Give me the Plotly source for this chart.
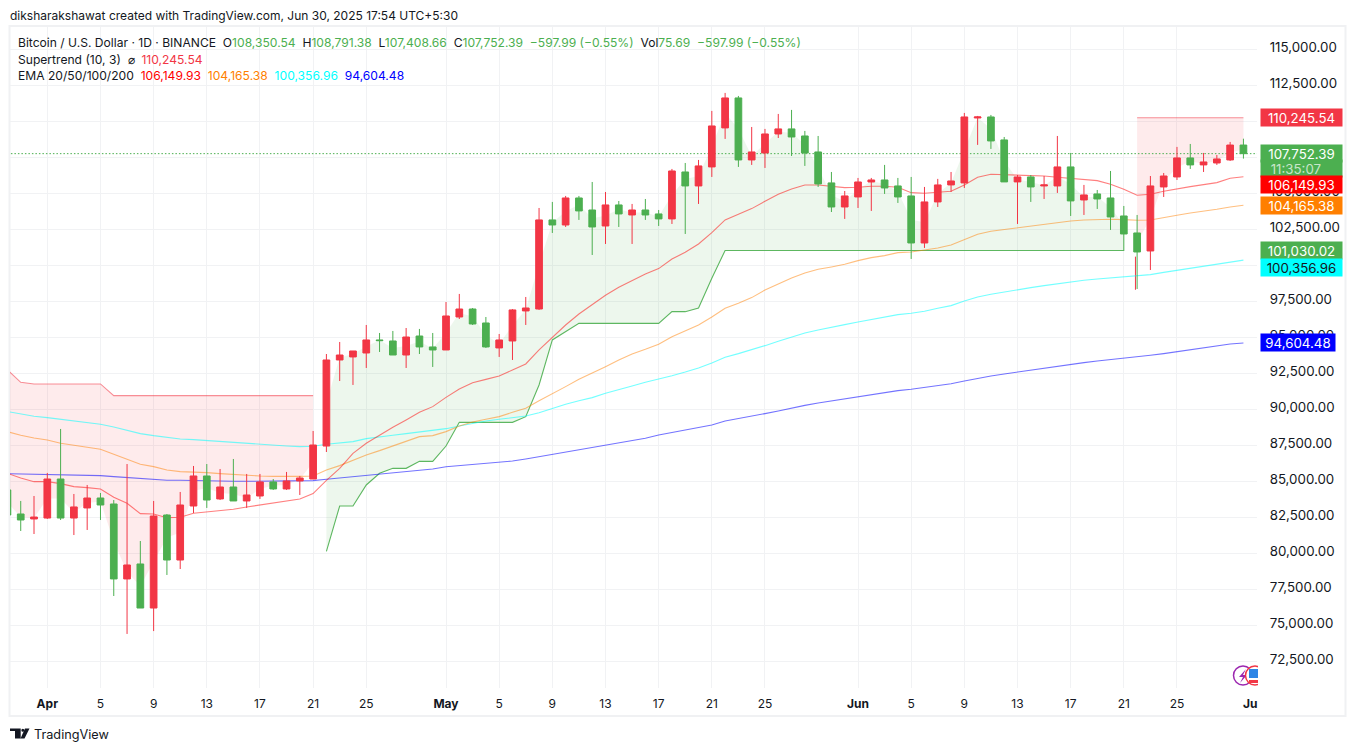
import pandas as pd
import plotly.graph_objects as go

# --- Data, one value per day from Mar 29 to Jun 30 2025 ---
dates = pd.date_range("2025-03-29", "2025-06-30", freq="D")

opens = [
    84400, 82730, 82385,
    82450, 85160, 82450, 83150, 83840, 83425, 78220, 79260, 76200, 82660, 79535, 83285, 85370, 83775, 84605,
    83635, 83980, 84955, 84470, 85025, 85160, 87450, 93425, 93635, 93910, 94815, 94745, 93770, 95090, 94330,
    94120, 96410, 96965, 95995, 94260, 94745, 96830, 96965, 103150, 102800, 104675, 103840, 102730, 104190, 103495,
    103840, 103565, 103220, 106480, 105510, 106830, 109540, 111620, 107315, 107800, 109120, 109470, 108980, 107870, 105720, 104050,
    104745, 105785, 105925, 105510, 104815, 101550, 104400, 105580, 105720, 110230, 110300, 108705, 105790, 106135, 105510,
    105510, 106830, 104535, 104955, 104675, 103425, 102245, 100995, 105440, 106135, 107455, 106970, 107105, 107315, 108350.54,
]
closes = [
    82660, 82315, 82520,
    85160, 82450, 83220, 83840, 83355, 78220, 79190, 76200, 82590, 79535, 83355, 85370, 83700, 84605, 83635,
    84050, 84955, 84470, 85025, 85230, 87520, 93425, 93770, 94050, 94815, 94770, 93770, 95020, 94330, 94120,
    96480, 96965, 95925, 94330, 94815, 96900, 97035, 103150, 102800, 104675, 103775, 102660, 104190, 103565, 103840,
    103495, 103220, 106550, 105510, 106900, 109675, 111620, 107315, 107870, 109120, 109470, 108910, 107800, 105650, 104050, 104815,
    105785, 105925, 105370, 104745, 101550, 104400, 105580, 105855, 110300, 110300, 108635, 105790, 106135, 105440, 105580,
    106830, 104470, 104885, 104605, 103355, 102175, 100925, 105510, 106200, 107455, 106970, 107175, 107385, 108350, 107752.39,
]
highs = [
    84400, 83635, 83980,
    85580, 88635, 84120, 84745, 84190, 83700, 86200, 80855, 83635, 82730, 84260, 86065, 86200, 85855, 86550,
    85510, 85510, 85160, 85650, 85370, 88495, 93840, 94675, 94050, 95855, 95300, 95440, 95645, 95580, 95300,
    97450, 98010, 97035, 96410, 95230, 96965, 97800, 103980, 104400, 104815, 104815, 105785, 105090, 104465, 104260,
    104605, 103840, 106690, 107105, 107315, 110720, 111970, 111760, 109605, 109470, 110510, 110790, 109330, 108980, 106480, 105160,
    106065, 106065, 106970, 106065, 106135, 105440, 106000, 106480, 110580, 110370, 110440, 108910, 106270, 106270, 106200,
    108980, 107800, 105580, 105230, 106550, 104120, 103495, 106200, 106410, 108220, 108425, 107800, 107660, 108565, 108791.38,
]
lows = [
    82660, 81550, 81340,
    82385, 82315, 81270, 81620, 82315, 77035, 74400, 76200, 74600, 78495, 78910, 82800, 83150, 83700, 83635,
    83150, 83775, 84400, 84400, 84050, 85160, 87035, 91965, 91690, 92870, 93980, 93770, 92870, 93840, 92940,
    94120, 96270, 95855, 94260, 93635, 93425, 95855, 96900, 102245, 102660, 103150, 100715, 101480, 102660, 101480,
    103150, 102730, 102870, 102175, 104260, 106135, 108775, 106830, 106970, 106760, 108840, 107590, 106900, 105440, 103700, 103220,
    103980, 103775, 104955, 104330, 100440, 101205, 104050, 105090, 105370, 108360, 108080, 105790, 102870, 104400, 104605,
    105025, 103425, 103495, 103910, 102455, 100995, 98355, 99675, 104745, 105925, 106690, 106480, 106970, 107245, 107408.66,
]

ema20 = [
    85555, 85230, 84975,
    84975, 84840, 84630, 84560, 84470, 83890, 83470, 82755, 82730, 82475, 82500, 82780, 82870, 82985, 83055,
    83215, 83355, 83470, 83610, 83775, 84145, 85070, 85900, 86945, 87640, 88215, 88750, 89260, 89790, 90185,
    90830, 91410, 91850, 92080, 92315, 92730, 93150, 94120, 94975, 95855, 96620, 97245, 97915, 98470, 98960,
    99400, 99770, 100440, 100900, 101480, 102270, 103150, 103540, 103935, 104445, 104930, 105300, 105580, 105580, 105465, 105395,
    105415, 105485, 105485, 105415, 105045, 105000, 105070, 105140, 105580, 106110, 106320, 106295, 106250, 106225, 106200,
    106110, 106040, 105970, 105880, 105625, 105280, 104860, 104930, 105140, 105325, 105465, 105600, 105740, 106040, 106149.93,
]
ema50 = [
    88450, 88195, 88010,
    87870, 87640, 87475, 87360, 87220, 86875, 86550, 86180, 86020, 85785, 85670, 85650, 85600, 85530, 85460,
    85415, 85370, 85345, 85325, 85345, 85370, 85785, 86090, 86480, 86830, 87130, 87450, 87775, 88100, 88170,
    88450, 88840, 89120, 89305, 89490, 89790, 90070, 90600, 91065, 91575, 92080, 92500, 92960, 93425, 93840,
    94165, 94515, 95045, 95440, 95855, 96410, 97015, 97360, 97755, 98285, 98700, 99120, 99470, 99720, 99885, 100070,
    100325, 100530, 100670, 100880, 100925, 101040, 101200, 101410, 101805, 102150, 102360, 102475, 102590, 102710, 102825,
    102985, 103080, 103150, 103195, 103195, 103170, 103125, 103150, 103285, 103470, 103635, 103750, 103890, 104050, 104165.38,
]
ema100 = [
    89840, 89655, 89515,
    89420, 89305, 89190, 89075, 88960, 88775, 88565, 88310, 88170, 88035, 87940, 87895, 87825, 87755, 87685,
    87615, 87545, 87500, 87455, 87410, 87430, 87570, 87640, 87755, 87965, 88100, 88195, 88310, 88425, 88515,
    88655, 88840, 89025, 89190, 89305, 89395, 89535, 89765, 90070, 90345, 90600, 90810, 91110, 91340, 91620,
    91875, 92080, 92335, 92590, 92870, 93215, 93610, 93865, 94120, 94420, 94720, 95020, 95300, 95510, 95670, 95880,
    96065, 96225, 96410, 96575, 96665, 96805, 97015, 97200, 97520, 97800, 97985, 98150, 98290, 98450, 98590,
    98730, 98845, 98960, 99050, 99120, 99190, 99235, 99350, 99510, 99650, 99790, 99955, 100095, 100255, 100356.96,
]
ema200 = [
    85530, 85510, 85485,
    85460, 85460, 85440, 85415, 85395, 85325, 85255, 85160, 85115, 85070, 85070, 85045, 85025, 85000, 85000,
    85000, 85000, 85025, 85025, 85045, 85045, 85140, 85230, 85320, 85415, 85510, 85625, 85715, 85785, 85855,
    86015, 86085, 86155, 86225, 86320, 86410, 86550, 86710, 86875, 87035, 87220, 87360, 87520, 87660, 87820,
    87985, 88215, 88380, 88565, 88700, 88910, 89190, 89350, 89510, 89700, 89885, 90090, 90275, 90440, 90580, 90740,
    90900, 91040, 91180, 91295, 91390, 91505, 91645, 91780, 91970, 92150, 92315, 92455, 92590, 92730, 92870,
    92985, 93125, 93240, 93355, 93450, 93540, 93610, 93750, 93865, 94005, 94145, 94285, 94425, 94535, 94604.48,
]

# Supertrend segments: Mar 29-Apr 21 down, Apr 22-Jun 21 up, Jun 22-Jun 30 down
st_down_first = [92750, 91875, 91760, 91760, 91760, 91760, 91760, 91760] + [90950] * 16
st_up = (
    [80140, 83285, 83285, 84745, 85555, 85900, 85900, 86385, 86385]
    + [87450, 89095, 89095, 89095, 89095, 89095, 89490, 91690, 94815, 95390]
    + [95970] * 7
    + [96780, 96780, 97035, 99100]
    + [101030.02] * 31
)
st_down_last = [110245.54] * 9
st_flip_wick = [100600, 98300]

price_ticks = [72500 + 2500 * i for i in range(18)]
date_ticks = ["2025-04-01", "2025-04-05", "2025-04-09", "2025-04-13", "2025-04-17", "2025-04-21", "2025-04-25",
              "2025-05-01", "2025-05-05", "2025-05-09", "2025-05-13", "2025-05-17", "2025-05-21", "2025-05-25",
              "2025-06-01", "2025-06-05", "2025-06-09", "2025-06-13", "2025-06-17", "2025-06-21", "2025-06-25",
              "2025-07-01"]
date_labels = ["<b>Apr</b>", "5", "9", "13", "17", "21", "25",
               "<b>May</b>", "5", "9", "13", "17", "21", "25",
               "<b>Jun</b>", "5", "9", "13", "17", "21", "25", ""]

for series in (opens, closes, highs, lows, ema20, ema50, ema100, ema200):
    assert len(series) == len(dates)
assert len(st_down_first) + len(st_up) + len(st_down_last) == len(dates)

# --- Colours and sizes ---
RED = "#F23645"
GREEN = "#4CAF50"
INK = "#131722"
GRID = "#F1F2F4"
FONT = "Inter"
W, H = 1355, 751
LEFT, RIGHT, TOP, BOTTOM = 10, 1257, 27, 688
X_RANGE = ["2025-03-29 04:38", "2025-07-01 00:30"]
Y_RANGE = [70647, 116547]


def px(x):
    return (x - LEFT) / (RIGHT - LEFT)


def py(y):
    return (BOTTOM - y) / (BOTTOM - TOP)


body_mid = [(o + c) / 2 for o, c in zip(opens, closes)]
n1 = len(st_down_first)
n2 = n1 + len(st_up)

fig = go.Figure()


def fill_band(xs, line_vals, mid_vals, line_color, fill_color):
    fig.add_trace(go.Scatter(x=xs, y=line_vals, mode="lines", line=dict(color=line_color, width=1.1), hoverinfo="skip"))
    fig.add_trace(go.Scatter(x=xs, y=mid_vals, mode="lines", line=dict(width=0), fill="tonexty",
                             fillcolor=fill_color, hoverinfo="skip"))


# --- Supertrend bands ---
fill_band(dates[:n1], st_down_first, body_mid[:n1], "rgba(242,54,69,0.55)", "rgba(242,54,69,0.10)")
fill_band(dates[n1:n2], st_up, body_mid[n1:n2], "rgba(76,175,80,0.9)", "rgba(76,175,80,0.10)")
fill_band(dates[n2:], st_down_last, body_mid[n2:], "rgba(242,54,69,0.55)", "rgba(242,54,69,0.10)")
fig.add_trace(go.Scatter(x=[dates[n2] - pd.Timedelta(hours=3)] * 2, y=st_flip_wick, mode="lines",
                         line=dict(color=RED, width=1), hoverinfo="skip"))

# --- Last price line ---
fig.add_trace(go.Scatter(x=[dates[0], X_RANGE[1]], y=[closes[-1], closes[-1]], mode="lines",
                         line=dict(color=GREEN, width=1, dash="1.5px 2px"), hoverinfo="skip"))

# --- EMAs ---
for vals, color in [(ema200, "rgba(0,0,255,0.55)"), (ema100, "rgba(0,255,255,0.55)"),
                    (ema50, "rgba(255,127,0,0.5)"), (ema20, "rgba(255,0,0,0.5)")]:
    fig.add_trace(go.Scatter(x=dates, y=vals, mode="lines", line=dict(color=color, width=1.1), hoverinfo="skip"))

# --- Candles, on an overlaying axis pair so they sit above the lines (up = red, down = green) ---
fig.add_trace(go.Candlestick(
    x=dates, open=opens, high=highs, low=lows, close=closes,
    xaxis="x2", yaxis="y2", whiskerwidth=0,
    increasing=dict(line=dict(color=RED, width=1), fillcolor=RED),
    decreasing=dict(line=dict(color=GREEN, width=1), fillcolor=GREEN),
))

# --- Text ---
G = lambda t: f"<span style='color:{GREEN}'>{t}</span>"
NB = "\u00a0"
header_rows = [
    (42, f"Bitcoin / U.S. Dollar · 1D · BINANCE{NB}{NB}O{G('108,350.54')}{NB}{NB}H{G('108,791.38')}{NB}{NB}"
         f"L{G('107,408.66')}{NB}{NB}C{G('107,752.39')}{NB}{NB}{G('−597.99 (−0.55%)')}{NB}{NB}"
         f"Vol{G('75.69')}{NB}{NB}{G('−597.99 (−0.55%)')}"),
    (59, f"Supertrend (10, 3){NB}{NB}⌀{NB}{NB}<span style='color:{RED}'>110,245.54</span>"),
    (76, f"EMA 20/50/100/200{NB}{NB}<span style='color:#FF0000'>106,149.93</span>{NB}{NB}"
         f"<span style='color:#FF7F00'>104,165.38</span>{NB}{NB}<span style='color:#00FFFF'>100,356.96</span>{NB}{NB}"
         f"<span style='color:#0000FF'>94,604.48</span>"),
]
annotations = [dict(xref="paper", yref="paper", x=px(16), y=py(y), text=t, showarrow=False, xanchor="left",
                    yanchor="middle", font=dict(family=FONT, size=12.1, color=INK)) for y, t in header_rows]
annotations.append(dict(xref="paper", yref="paper", x=px(8), y=py(15), showarrow=False, xanchor="left",
                        yanchor="middle",
                        text="diksharakshawat created with TradingView.com, Jun 30, 2025 17:54 UTC+5:30",
                        font=dict(family=FONT, size=12, color=INK)))
annotations.append(dict(xref="paper", yref="paper", x=px(31.5), y=py(734), showarrow=False, xanchor="left",
                        yanchor="middle", text="TradingView", font=dict(family=FONT, size=12.7, color=INK)))
annotations.append(dict(xref="paper", yref="paper", x=px(1259), y=py(703), showarrow=False, xanchor="right",
                        yanchor="middle", text="<b>Ju</b>", font=dict(family=FONT, size=12, color=INK)))

# Price tags: value, background, text colour, label, pixel shift from the true price
tags = [
    (110245.54, RED, "white", "110,245.54", 0, 81),
    (107752.39, GREEN, "white", "107,752.39", 0, 81),
    (107752.39, GREEN, "rgba(255,255,255,0.7)", f"11:35:07{NB}{NB}{NB}", -15, 81),
    (106149.93, "#FF0000", "white", "106,149.93", -8, 81),
    (104165.38, "#FF7F00", "white", "104,165.38", 0, 81),
    (101030.02, GREEN, "white", "101,030.02", 0, 81),
    (100356.96, "#00FFFF", INK, "100,356.96", -7, 81),
    (94604.48, "#0000FF", "white", "94,604.48", 0, 74),
]
for value, bg, fg, label, shift, width in tags:
    annotations.append(dict(xref="paper", yref="y", x=px(1260), y=value, yshift=shift, text=label, showarrow=False,
                            xanchor="left", yanchor="middle", width=width, height=17, align="center", bgcolor=bg,
                            borderpad=0, font=dict(family=FONT, size=13.3, color=fg)))

# --- Frame, logo and the two small icons ---
def logo_path(points):
    return "M " + " L ".join(f"{px(x):.5f} {py(y):.5f}" for x, y in points) + " Z"


shapes = [
    dict(type="rect", xref="paper", yref="paper", x0=px(9.5), x1=px(1345.5), y0=py(716), y1=py(26),
         line=dict(color="#F0F1F3", width=2), layer="below"),
    dict(type="path", xref="paper", yref="paper", fillcolor=INK, line=dict(width=0),
         path=logo_path([(10, 728.5), (20.7, 728.5), (20.7, 738.5), (15, 738.5), (15, 731), (10, 731)])),
    dict(type="path", xref="paper", yref="paper", fillcolor=INK, line=dict(width=0),
         path=logo_path([(25, 728.5), (29.5, 728.5), (24.5, 738.5), (20.5, 738.5)])),
    dict(type="circle", xref="paper", yref="paper", fillcolor=INK, line=dict(width=0),
         x0=px(21.3), x1=px(24.3), y0=py(731.8), y1=py(728.8)),
    dict(type="circle", xref="paper", yref="paper", x0=px(1233.5), x1=px(1252.5), y0=py(685), y1=py(666),
         fillcolor="white", line=dict(color="#9C27B0", width=1.5)),
    dict(type="path", xref="paper", yref="paper", fillcolor="#9C27B0", line=dict(width=0),
         path=logo_path([(1246, 669), (1239, 677), (1243, 677), (1240, 683), (1247, 675), (1243, 675)])),
    dict(type="circle", xref="paper", yref="paper", x0=px(1245.5), x1=px(1264.5), y0=py(685), y1=py(666),
         fillcolor="white", line=dict(color=RED, width=1.5)),
    dict(type="rect", xref="paper", yref="paper", x0=px(1249), x1=px(1258), y0=py(678), y1=py(669),
         fillcolor="#2E86E6", line=dict(width=0)),
    dict(type="rect", xref="paper", yref="paper", x0=px(1249), x1=px(1258), y0=py(683), y1=py(680),
         fillcolor=RED, line=dict(width=0)),
    # the chart pane cuts the flag icon off at its right edge
    dict(type="rect", xref="paper", yref="paper", x0=px(1258), x1=px(1267), y0=py(688), y1=py(663),
         fillcolor="white", line=dict(width=0)),
]

# --- Layout ---
fig.update_layout(
    width=W,
    height=H,
    autosize=False,
    showlegend=False,
    boxgap=0.28,
    plot_bgcolor="white",
    paper_bgcolor="white",
    hovermode=False,
    margin=dict(l=LEFT, r=W - RIGHT, t=TOP, b=H - BOTTOM, autoexpand=False),
    font=dict(family=FONT, size=12, color=INK),
    xaxis=dict(
        type="date", range=X_RANGE, tickmode="array", tickvals=date_ticks, ticktext=date_labels,
        showgrid=True, gridcolor=GRID, gridwidth=1, zeroline=False, showline=False,
        ticks="outside", ticklen=5, tickcolor="rgba(0,0,0,0)",
        tickfont=dict(family=FONT, size=12, color=INK),
    ),
    yaxis=dict(
        range=Y_RANGE, side="right", tickmode="array", tickvals=price_ticks,
        ticktext=[f"{v:,.2f}" for v in price_ticks],
        showgrid=True, gridcolor=GRID, gridwidth=1, zeroline=False, showline=False,
        ticks="outside", ticklen=9, tickcolor="rgba(0,0,0,0)", ticklabelshift=-2,
        tickfont=dict(family=FONT, size=13.3, color=INK),
    ),
    xaxis2=dict(type="date", range=X_RANGE, overlaying="x", visible=False, rangeslider=dict(visible=False)),
    yaxis2=dict(range=Y_RANGE, overlaying="y", visible=False),
    annotations=annotations,
    shapes=shapes,
)

fig.write_html("out.html", config=dict(displayModeBar=False),
               post_script="document.body.style.margin='0';")
